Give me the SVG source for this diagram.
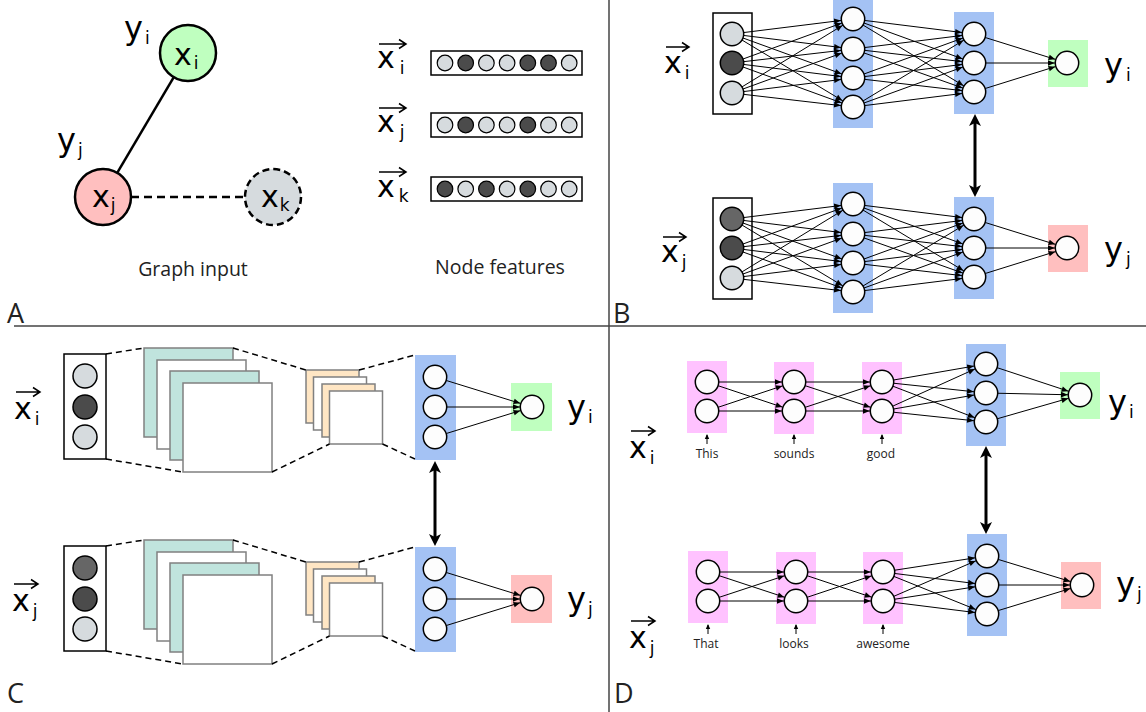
<svg xmlns="http://www.w3.org/2000/svg" width="1146" height="712" viewBox="0 0 1146 712">
<defs>
<style>
.n{fill:#fdfdfd;stroke:#000;stroke-width:1.5}
.lt{fill:#d6dbde;stroke:#000;stroke-width:1.5}
.dk{fill:#4b4b4b;stroke:#000;stroke-width:1.5}
.dk2{fill:#666;stroke:#000;stroke-width:1.5}
.fl{fill:#d6dbde;stroke:#000;stroke-width:1.2}
.fd{fill:#4b4b4b;stroke:#000;stroke-width:1.2}
.blue{fill:#a4c2f4}
.pink{fill:#ffc2ff}
.green{fill:#bfffbf}
.red{fill:#ffbfbf}
.box{fill:#fff;stroke:#000;stroke-width:1.5}
.teal{fill:#c0e4dd;stroke:#808080;stroke-width:1.5}
.wm{fill:#fff;stroke:#808080;stroke-width:1.5}
.org{fill:#ffe6c4;stroke:#808080;stroke-width:1.5}
.e line{stroke:#000;stroke-width:1;marker-end:url(#ah)}
.dash{stroke:#000;stroke-width:1.5;stroke-dasharray:6 4;fill:none}
.dbl{stroke:#000;stroke-width:3;marker-start:url(#dh);marker-end:url(#dh)}
.sa{stroke:#000;stroke-width:1;marker-end:url(#sh)}
.m{font-family:"DejaVu Sans",sans-serif;fill:#000}
.mx{font-size:30px}
.my{font-size:32px}
.sub{font-size:17px}
.t{font-family:"Open Sans",sans-serif;fill:#222}
.vec{fill:none;stroke:#000;stroke-width:1.5}
.div{stroke:#444;stroke-width:1.5}
</style>
<marker id="ah" markerUnits="userSpaceOnUse" markerWidth="1" markerHeight="1" orient="auto" overflow="visible"><path d="M-19,-2.8 L-12.3,0 L-19,2.8 z" fill="#000"/></marker>
<marker id="dh" markerUnits="userSpaceOnUse" markerWidth="1" markerHeight="1" orient="auto-start-reverse" overflow="visible"><path d="M6,0 L-6,-6 L-3,0 L-6,6 z" fill="#000"/></marker>
<marker id="sh" markerUnits="userSpaceOnUse" markerWidth="1" markerHeight="1" orient="auto" overflow="visible"><path d="M1,0 L-4,-2.2 L-4,2.2 z" fill="#000"/></marker>
</defs>
<rect width="1146" height="712" fill="#fff"/>

<!-- dividers -->
<g id="dividers">
<line class="div" x1="609" y1="0" x2="609" y2="712"/>
<line class="div" x1="14" y1="326" x2="1146" y2="326"/>
</g>

<!-- panel letters -->
<g id="panel-labels" class="t" font-size="27">
<text x="7" y="323">A</text>
<text x="613" y="323">B</text>
<text x="7" y="703">C</text>
<text x="614" y="703">D</text>
</g>

<!-- ================= PANEL A ================= -->
<g id="connectors-A">
<line x1="173.8" y1="77.1" x2="117.2" y2="172.9" stroke="#000" stroke-width="2.5"/>
<line x1="131" y1="197" x2="245" y2="197" stroke="#000" stroke-width="2.5" stroke-dasharray="8 5"/>
</g>
<g id="node-xi">
<circle cx="188" cy="53" r="28" fill="#bfffbf" stroke="#000" stroke-width="2.5"/>
<text class="m mx" x="174" y="65">x<tspan class="sub" dx="2" dy="4">i</tspan></text>
</g>
<g id="node-xj">
<circle cx="103" cy="197" r="28" fill="#ffbfbf" stroke="#000" stroke-width="2.5"/>
<text class="m mx" x="92" y="207">x<tspan class="sub" dx="1" dy="4">j</tspan></text>
</g>
<g id="node-xk">
<circle cx="273" cy="197" r="28" fill="#d6dbde" stroke="#000" stroke-width="2.5" stroke-dasharray="7 4"/>
<text class="m mx" x="261" y="207">x<tspan class="sub" dx="1" dy="4">k</tspan></text>
</g>
<g id="label-yi-A"><text class="m my" x="124" y="38.5">y<tspan class="sub" dx="2" dy="5">i</tspan></text></g>
<g id="label-yj-A"><text class="m my" x="57" y="150.5">y<tspan class="sub" dx="2" dy="5">j</tspan></text></g>
<text class="t" x="193" y="276" font-size="19.5" text-anchor="middle">Graph input</text>

<g id="feat-i">
<text class="m mx" x="377" y="68">x<tspan class="sub" dx="5" dy="6">i</tspan></text>
<path class="vec" d="M379,44 H406 M399,39.5 L406,44 L399,48.5"/>
<rect class="box" x="431" y="51" width="151" height="24"/>
<circle class="fl" cx="445" cy="63" r="7.8"/><circle class="fd" cx="465.7" cy="63" r="7.8"/><circle class="fl" cx="486.4" cy="63" r="7.8"/><circle class="fl" cx="507.1" cy="63" r="7.8"/><circle class="fd" cx="527.8" cy="63" r="7.8"/><circle class="fd" cx="548.5" cy="63" r="7.8"/><circle class="fl" cx="569.2" cy="63" r="7.8"/>
</g>
<g id="feat-j">
<text class="m mx" x="377" y="132">x<tspan class="sub" dx="5" dy="6">j</tspan></text>
<path class="vec" d="M379,108 H406 M399,103.5 L406,108 L399,112.5"/>
<rect class="box" x="431" y="113" width="151" height="24"/>
<circle class="fl" cx="445" cy="125" r="7.8"/><circle class="fd" cx="465.7" cy="125" r="7.8"/><circle class="fl" cx="486.4" cy="125" r="7.8"/><circle class="fl" cx="507.1" cy="125" r="7.8"/><circle class="fd" cx="527.8" cy="125" r="7.8"/><circle class="fl" cx="548.5" cy="125" r="7.8"/><circle class="fl" cx="569.2" cy="125" r="7.8"/>
</g>
<g id="feat-k">
<text class="m mx" x="377" y="197">x<tspan class="sub" dx="4" dy="5">k</tspan></text>
<path class="vec" d="M379,172 H406 M399,167.5 L406,172 L399,176.5"/>
<rect class="box" x="431" y="177" width="151" height="24"/>
<circle class="fd" cx="445" cy="189" r="7.8"/><circle class="fl" cx="465.7" cy="189" r="7.8"/><circle class="fd" cx="486.4" cy="189" r="7.8"/><circle class="fl" cx="507.1" cy="189" r="7.8"/><circle class="fd" cx="527.8" cy="189" r="7.8"/><circle class="fl" cx="548.5" cy="189" r="7.8"/><circle class="fl" cx="569.2" cy="189" r="7.8"/>
</g>
<text class="t" x="500" y="274" font-size="19.5" text-anchor="middle">Node features</text>

<!-- ================= PANEL B ================= -->
<g id="B-layers">
<rect class="box" x="713" y="13" width="39" height="101"/>
<rect class="blue" x="833" y="0" width="40" height="128"/>
<rect class="blue" x="954" y="12" width="40" height="102"/>
<rect class="green" x="1048" y="40" width="40" height="47"/>
<rect class="box" x="713" y="198" width="39" height="101"/>
<rect class="blue" x="833" y="183" width="40" height="130"/>
<rect class="blue" x="954" y="197" width="40" height="102"/>
<rect class="red" x="1048" y="225" width="40" height="47"/>
</g>
<g id="B-connectors" class="e">
<line x1="732" y1="34" x2="853" y2="19"/><line x1="732" y1="34" x2="853" y2="49"/><line x1="732" y1="34" x2="853" y2="78"/><line x1="732" y1="34" x2="853" y2="107"/>
<line x1="732" y1="63" x2="853" y2="19"/><line x1="732" y1="63" x2="853" y2="49"/><line x1="732" y1="63" x2="853" y2="78"/><line x1="732" y1="63" x2="853" y2="107"/>
<line x1="732" y1="93" x2="853" y2="19"/><line x1="732" y1="93" x2="853" y2="49"/><line x1="732" y1="93" x2="853" y2="78"/><line x1="732" y1="93" x2="853" y2="107"/>
<line x1="853" y1="19" x2="974" y2="34"/><line x1="853" y1="19" x2="974" y2="63"/><line x1="853" y1="19" x2="974" y2="92"/>
<line x1="853" y1="49" x2="974" y2="34"/><line x1="853" y1="49" x2="974" y2="63"/><line x1="853" y1="49" x2="974" y2="92"/>
<line x1="853" y1="78" x2="974" y2="34"/><line x1="853" y1="78" x2="974" y2="63"/><line x1="853" y1="78" x2="974" y2="92"/>
<line x1="853" y1="107" x2="974" y2="34"/><line x1="853" y1="107" x2="974" y2="63"/><line x1="853" y1="107" x2="974" y2="92"/>
<line x1="974" y1="34" x2="1067" y2="63"/><line x1="974" y1="63" x2="1067" y2="63"/><line x1="974" y1="92" x2="1067" y2="63"/>
<line x1="732" y1="219" x2="853" y2="204"/><line x1="732" y1="219" x2="853" y2="234"/><line x1="732" y1="219" x2="853" y2="263"/><line x1="732" y1="219" x2="853" y2="292"/>
<line x1="732" y1="248" x2="853" y2="204"/><line x1="732" y1="248" x2="853" y2="234"/><line x1="732" y1="248" x2="853" y2="263"/><line x1="732" y1="248" x2="853" y2="292"/>
<line x1="732" y1="278" x2="853" y2="204"/><line x1="732" y1="278" x2="853" y2="234"/><line x1="732" y1="278" x2="853" y2="263"/><line x1="732" y1="278" x2="853" y2="292"/>
<line x1="853" y1="204" x2="974" y2="219"/><line x1="853" y1="204" x2="974" y2="248"/><line x1="853" y1="204" x2="974" y2="277"/>
<line x1="853" y1="234" x2="974" y2="219"/><line x1="853" y1="234" x2="974" y2="248"/><line x1="853" y1="234" x2="974" y2="277"/>
<line x1="853" y1="263" x2="974" y2="219"/><line x1="853" y1="263" x2="974" y2="248"/><line x1="853" y1="263" x2="974" y2="277"/>
<line x1="853" y1="292" x2="974" y2="219"/><line x1="853" y1="292" x2="974" y2="248"/><line x1="853" y1="292" x2="974" y2="277"/>
<line x1="974" y1="219" x2="1067" y2="248"/><line x1="974" y1="248" x2="1067" y2="248"/><line x1="974" y1="277" x2="1067" y2="248"/>
</g>
<g id="B-link"><line class="dbl" x1="975" y1="120" x2="975" y2="191"/></g>
<g id="B-nodes-i">
<circle class="lt" cx="732" cy="34" r="11.7"/><circle class="dk" cx="732" cy="63" r="11.7"/><circle class="lt" cx="732" cy="93" r="11.7"/>
<circle class="n" cx="853" cy="19" r="11.7"/><circle class="n" cx="853" cy="49" r="11.7"/><circle class="n" cx="853" cy="78" r="11.7"/><circle class="n" cx="853" cy="107" r="11.7"/>
<circle class="n" cx="974" cy="34" r="11.7"/><circle class="n" cx="974" cy="63" r="11.7"/><circle class="n" cx="974" cy="92" r="11.7"/>
<circle class="n" cx="1067" cy="63" r="11.7"/>
</g>
<g id="B-nodes-j">
<circle class="dk2" cx="732" cy="219" r="11.7"/><circle class="dk" cx="732" cy="248" r="11.7"/><circle class="lt" cx="732" cy="278" r="11.7"/>
<circle class="n" cx="853" cy="204" r="11.7"/><circle class="n" cx="853" cy="234" r="11.7"/><circle class="n" cx="853" cy="263" r="11.7"/><circle class="n" cx="853" cy="292" r="11.7"/>
<circle class="n" cx="974" cy="219" r="11.7"/><circle class="n" cx="974" cy="248" r="11.7"/><circle class="n" cx="974" cy="277" r="11.7"/>
<circle class="n" cx="1067" cy="248" r="11.7"/>
</g>
<g id="B-labels">
<text class="m mx" x="664" y="73">x<tspan class="sub" dx="3" dy="6">i</tspan></text>
<path class="vec" d="M666,47 H689 M682,42.5 L689,47 L682,51.5"/>
<text class="m mx" x="661" y="262">x<tspan class="sub" dx="3" dy="6">j</tspan></text>
<path class="vec" d="M663,237 H686 M679,232.5 L686,237 L679,241.5"/>
<text class="m my" x="1104" y="75.5">y<tspan class="sub" dx="3" dy="5">i</tspan></text>
<text class="m my" x="1104" y="259.5">y<tspan class="sub" dx="3" dy="5">j</tspan></text>
</g>

<!-- ================= PANEL C ================= -->
<g id="C-top-maps">
<rect class="box" x="64" y="354" width="42" height="105"/>
<rect class="teal" x="144" y="348" width="89" height="89"/>
<rect class="wm" x="157" y="360" width="89" height="89"/>
<rect class="teal" x="170" y="371" width="89" height="89"/>
<rect class="wm" x="183" y="383" width="89" height="89"/>
<rect class="org" x="306" y="370" width="53" height="53"/>
<rect class="wm" x="313.5" y="377" width="53" height="53"/>
<rect class="org" x="322" y="384" width="53" height="53"/>
<rect class="wm" x="329.5" y="391" width="53" height="53"/>
<rect class="blue" x="415" y="355" width="41" height="105"/>
<rect class="green" x="511" y="383" width="41" height="48"/>
</g>
<g id="C-bottom-maps">
<rect class="box" x="64" y="546" width="42" height="105"/>
<rect class="teal" x="144" y="540" width="89" height="89"/>
<rect class="wm" x="157" y="552" width="89" height="89"/>
<rect class="teal" x="170" y="563" width="89" height="89"/>
<rect class="wm" x="183" y="575" width="89" height="89"/>
<rect class="org" x="306" y="562" width="53" height="53"/>
<rect class="wm" x="313.5" y="569" width="53" height="53"/>
<rect class="org" x="322" y="576" width="53" height="53"/>
<rect class="wm" x="329.5" y="583" width="53" height="53"/>
<rect class="blue" x="415" y="547" width="41" height="105"/>
<rect class="red" x="511" y="575" width="41" height="48"/>
</g>
<g id="C-connectors">
<g class="dash-lines">
<line class="dash" x1="106" y1="354" x2="144" y2="348"/>
<line class="dash" x1="106" y1="459" x2="183" y2="472"/>
<line class="dash" x1="233" y1="348" x2="306" y2="370"/>
<line class="dash" x1="272" y1="472" x2="329.5" y2="444"/>
<line class="dash" x1="359" y1="370" x2="415" y2="355"/>
<line class="dash" x1="382.5" y1="444" x2="415" y2="459"/>
<line class="dash" x1="106" y1="546" x2="144" y2="540"/>
<line class="dash" x1="106" y1="651" x2="183" y2="664"/>
<line class="dash" x1="233" y1="540" x2="306" y2="562"/>
<line class="dash" x1="272" y1="664" x2="329.5" y2="636"/>
<line class="dash" x1="359" y1="562" x2="415" y2="547"/>
<line class="dash" x1="382.5" y1="636" x2="415" y2="651"/>
</g>
<g class="e">
<line x1="435" y1="377" x2="532" y2="407"/><line x1="435" y1="407" x2="532" y2="407"/><line x1="435" y1="437" x2="532" y2="407"/>
<line x1="435" y1="569" x2="532" y2="599"/><line x1="435" y1="599" x2="532" y2="599"/><line x1="435" y1="629" x2="532" y2="599"/>
</g>
<line class="dbl" x1="435" y1="467" x2="435" y2="540"/>
</g>
<g id="C-nodes-i">
<circle class="lt" cx="85" cy="376" r="12"/><circle class="dk" cx="85" cy="407" r="12"/><circle class="lt" cx="85" cy="437" r="12"/>
<circle class="n" cx="435" cy="377" r="11.7"/><circle class="n" cx="435" cy="407" r="11.7"/><circle class="n" cx="435" cy="437" r="11.7"/>
<circle class="n" cx="532" cy="407" r="11.7"/>
</g>
<g id="C-nodes-j">
<circle class="dk2" cx="85" cy="568" r="12"/><circle class="dk" cx="85" cy="599" r="12"/><circle class="lt" cx="85" cy="629" r="12"/>
<circle class="n" cx="435" cy="569" r="11.7"/><circle class="n" cx="435" cy="599" r="11.7"/><circle class="n" cx="435" cy="629" r="11.7"/>
<circle class="n" cx="532" cy="599" r="11.7"/>
</g>
<g id="C-labels">
<text class="m mx" x="14" y="419">x<tspan class="sub" dx="3" dy="6">i</tspan></text>
<path class="vec" d="M16,392 H40 M33,387.5 L40,392 L33,396.5"/>
<text class="m mx" x="12" y="611">x<tspan class="sub" dx="3" dy="6">j</tspan></text>
<path class="vec" d="M14,584 H38 M31,579.5 L38,584 L31,588.5"/>
<text class="m my" x="567" y="417.5">y<tspan class="sub" dx="2" dy="5">i</tspan></text>
<text class="m my" x="567" y="609.5">y<tspan class="sub" dx="2" dy="5">j</tspan></text>
</g>

<!-- ================= PANEL D ================= -->
<g id="D-layers">
<rect class="pink" x="687" y="361" width="40" height="72"/>
<rect class="pink" x="774" y="362" width="40" height="72"/>
<rect class="pink" x="862" y="362" width="40" height="72"/>
<rect class="blue" x="966" y="344" width="40" height="102"/>
<rect class="green" x="1060" y="372" width="40" height="47"/>
<rect class="pink" x="688" y="551" width="40" height="72"/>
<rect class="pink" x="776" y="552" width="40" height="72"/>
<rect class="pink" x="863" y="552" width="40" height="72"/>
<rect class="blue" x="967" y="534" width="40" height="102"/>
<rect class="red" x="1061" y="562" width="40" height="47"/>
</g>
<g id="D-connectors">
<g class="e">
<line x1="707" y1="382" x2="794" y2="382"/><line x1="707" y1="382" x2="794" y2="411"/><line x1="707" y1="411" x2="794" y2="382"/><line x1="707" y1="411" x2="794" y2="411"/>
<line x1="794" y1="382" x2="882" y2="382"/><line x1="794" y1="382" x2="882" y2="411"/><line x1="794" y1="411" x2="882" y2="382"/><line x1="794" y1="411" x2="882" y2="411"/>
<line x1="882" y1="382" x2="986" y2="364"/><line x1="882" y1="382" x2="986" y2="393"/><line x1="882" y1="382" x2="986" y2="422"/>
<line x1="882" y1="411" x2="986" y2="364"/><line x1="882" y1="411" x2="986" y2="393"/><line x1="882" y1="411" x2="986" y2="422"/>
<line x1="986" y1="364" x2="1080" y2="395"/><line x1="986" y1="393" x2="1080" y2="395"/><line x1="986" y1="422" x2="1080" y2="395"/>
<line x1="708" y1="572" x2="796" y2="572"/><line x1="708" y1="572" x2="796" y2="601"/><line x1="708" y1="601" x2="796" y2="572"/><line x1="708" y1="601" x2="796" y2="601"/>
<line x1="796" y1="572" x2="883" y2="572"/><line x1="796" y1="572" x2="883" y2="601"/><line x1="796" y1="601" x2="883" y2="572"/><line x1="796" y1="601" x2="883" y2="601"/>
<line x1="883" y1="572" x2="987" y2="556"/><line x1="883" y1="572" x2="987" y2="585"/><line x1="883" y1="572" x2="987" y2="614"/>
<line x1="883" y1="601" x2="987" y2="556"/><line x1="883" y1="601" x2="987" y2="585"/><line x1="883" y1="601" x2="987" y2="614"/>
<line x1="987" y1="556" x2="1082" y2="585"/><line x1="987" y1="585" x2="1082" y2="585"/><line x1="987" y1="614" x2="1082" y2="585"/>
</g>
<line class="sa" x1="707" y1="444" x2="707" y2="435"/>
<line class="sa" x1="794" y1="444" x2="794" y2="435"/>
<line class="sa" x1="882" y1="444" x2="882" y2="435"/>
<line class="sa" x1="708" y1="634" x2="708" y2="625"/>
<line class="sa" x1="796" y1="634" x2="796" y2="625"/>
<line class="sa" x1="883" y1="634" x2="883" y2="625"/>
<line class="dbl" x1="986" y1="452" x2="986" y2="528"/>
</g>
<g id="D-nodes-i">
<circle class="n" cx="707" cy="382" r="11.7"/><circle class="n" cx="707" cy="411" r="11.7"/>
<circle class="n" cx="794" cy="382" r="11.7"/><circle class="n" cx="794" cy="411" r="11.7"/>
<circle class="n" cx="882" cy="382" r="11.7"/><circle class="n" cx="882" cy="411" r="11.7"/>
<circle class="n" cx="986" cy="364" r="11.7"/><circle class="n" cx="986" cy="393" r="11.7"/><circle class="n" cx="986" cy="422" r="11.7"/>
<circle class="n" cx="1080" cy="395" r="11.7"/>
</g>
<g id="D-nodes-j">
<circle class="n" cx="708" cy="572" r="11.7"/><circle class="n" cx="708" cy="601" r="11.7"/>
<circle class="n" cx="796" cy="572" r="11.7"/><circle class="n" cx="796" cy="601" r="11.7"/>
<circle class="n" cx="883" cy="572" r="11.7"/><circle class="n" cx="883" cy="601" r="11.7"/>
<circle class="n" cx="987" cy="556" r="11.7"/><circle class="n" cx="987" cy="585" r="11.7"/><circle class="n" cx="987" cy="614" r="11.7"/>
<circle class="n" cx="1082" cy="585" r="11.7"/>
</g>
<g id="D-words" class="t" font-size="12" text-anchor="middle">
<text x="707" y="458">This</text>
<text x="794" y="458">sounds</text>
<text x="881" y="458">good</text>
<text x="706" y="648">That</text>
<text x="794" y="648">looks</text>
<text x="883" y="648">awesome</text>
</g>
<g id="D-labels">
<text class="m mx" x="629" y="458">x<tspan class="sub" dx="3" dy="6">i</tspan></text>
<path class="vec" d="M631,431 H655 M648,426.5 L655,431 L648,435.5"/>
<text class="m mx" x="629" y="648">x<tspan class="sub" dx="3" dy="6">j</tspan></text>
<path class="vec" d="M631,621 H655 M648,616.5 L655,621 L648,625.5"/>
<text class="m my" x="1108" y="412.5">y<tspan class="sub" dx="2" dy="5">i</tspan></text>
<text class="m my" x="1116" y="594.5">y<tspan class="sub" dx="2" dy="5">j</tspan></text>
</g>
</svg>
